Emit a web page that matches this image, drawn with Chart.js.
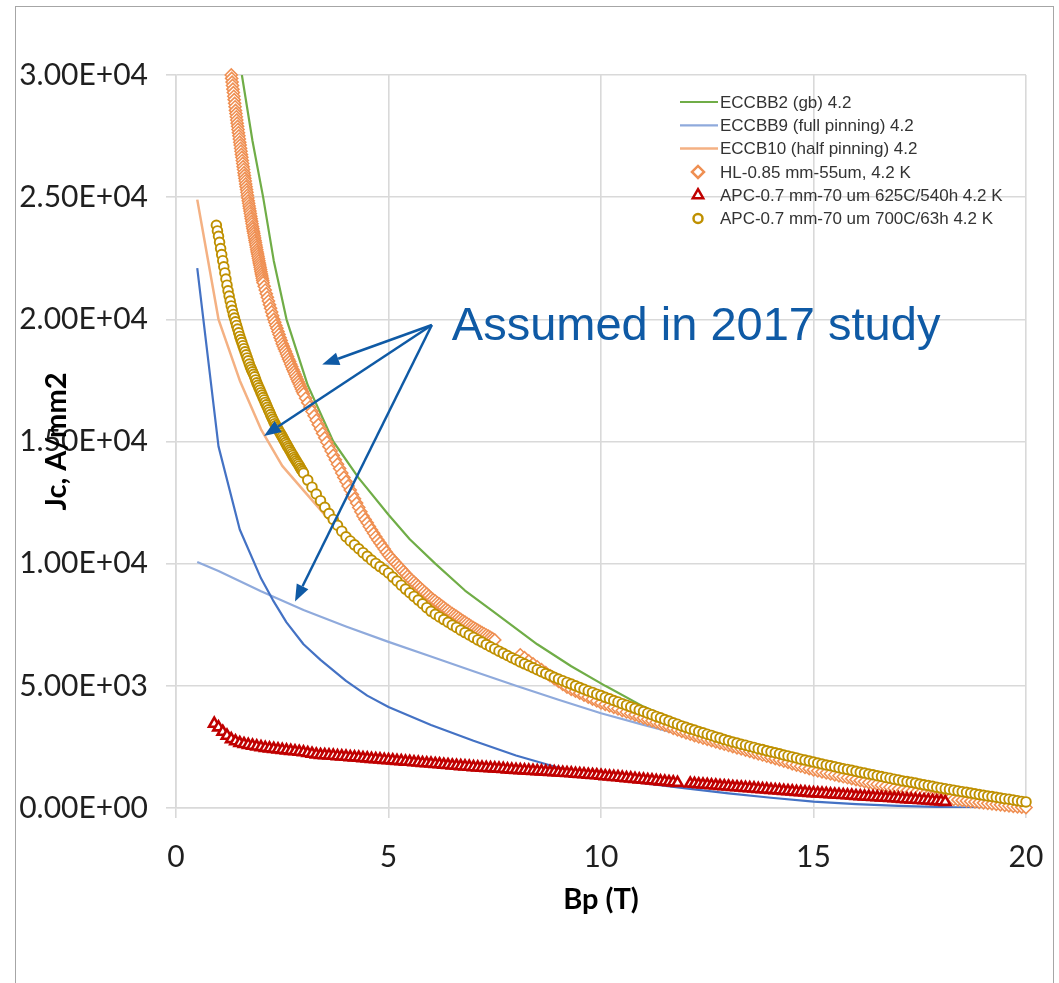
<!DOCTYPE html>
<html>
<head>
<meta charset="utf-8">
<script src="https://cdn.jsdelivr.net/npm/chart.js@4.4.1/dist/chart.umd.min.js"></script>
<style>
  html, body { margin: 0; padding: 0; background: #fff; overflow: hidden; }
  .frame { position: absolute; left: 15px; top: 6px; width: 1037px; height: 990px; border: 1px solid #a6a6a6; }
  #jcChart { position: absolute; left: 0; top: 0; }
</style>
</head>
<body>
<div class="frame"></div>
<canvas id="jcChart" width="1059" height="983"></canvas>
<script>
// Jc (A/mm2) vs. peak field Bp (T) at 4.2 K

// ECCBB2 (gb) model line
const eccbb2B  = [1.55, 1.8, 2.05, 2.3, 2.6, 3.1, 3.7, 4.3, 5.0, 5.5, 6.1, 6.8, 7.5, 8.5, 9.3, 10.1, 11, 12, 13, 14, 15, 16, 17, 18, 19, 20];
const eccbb2Jc = [30000, 27300, 25000, 22400, 20000, 17300, 15000, 13500, 12000, 11000, 10000, 8900, 8000, 6700, 5800, 5000, 4150, 3400, 2750, 2250, 1850, 1450, 1100, 750, 400, 100];

// ECCBB9 (full pinning) model line
const eccbb9B  = [0.5, 1, 2, 3, 4, 5, 6, 7, 8, 9, 10, 11, 12, 13.5, 15, 17.5, 20];
const eccbb9Jc = [10070, 9700, 8870, 8100, 7430, 6800, 6200, 5600, 5000, 4430, 3880, 3400, 2950, 2300, 1650, 750, 0];

// ECCB10 (half pinning) model line
const eccb10B  = [0.5, 1.0, 1.5, 2.0, 2.5, 3.0, 3.6, 4.0, 4.5, 5, 5.5, 6, 7, 8, 9, 10, 11, 12, 13, 14, 15, 16, 17, 18, 19, 20];
const eccb10Jc = [24900, 20000, 17500, 15500, 14000, 13000, 11800, 11050, 10350, 9500, 8750, 7950, 6850, 5950, 5150, 4450, 3800, 3150, 2550, 2050, 1600, 1200, 850, 500, 250, 50];

// second full-pinning curve (dark blue, not listed in the legend)
const fullPinB  = [0.5, 1, 1.5, 2, 2.28, 2.6, 3, 3.4, 4, 4.5, 5, 6, 7, 8, 9, 10, 11, 12, 13, 14, 15, 16, 17, 18, 19, 20];
const fullPinJc = [22100, 14800, 11400, 9400, 8510, 7600, 6700, 6060, 5200, 4600, 4130, 3400, 2750, 2150, 1650, 1250, 1020, 800, 600, 420, 260, 160, 90, 40, 10, 0];

// HL-0.85 mm-55um, 4.2 K
const hlB = [
  1.30, 1.31, 1.32, 1.33, 1.34, 1.35, 1.36, 1.37, 1.38, 1.39,
  1.40, 1.41, 1.42, 1.43, 1.44, 1.45, 1.46, 1.47, 1.48, 1.49,
  1.50, 1.51, 1.52, 1.53, 1.54, 1.55, 1.56, 1.57, 1.58, 1.59,
  1.60, 1.61, 1.62, 1.63, 1.64, 1.65, 1.66, 1.67, 1.68, 1.69,
  1.70, 1.71, 1.72, 1.73, 1.74, 1.75, 1.76, 1.77, 1.78, 1.79,
  1.80, 1.81, 1.82, 1.83, 1.84, 1.85, 1.86, 1.87, 1.88, 1.89,
  1.90, 1.91, 1.92, 1.93, 1.94, 1.95, 1.96, 1.97, 1.98, 1.99,
  2.00, 2.01, 2.02, 2.03, 2.04,
  2.05, 2.075, 2.10, 2.125, 2.15, 2.175, 2.20, 2.225, 2.25, 2.275,
  2.30, 2.325, 2.35, 2.375, 2.40, 2.425, 2.45, 2.475, 2.50, 2.525,
  2.55, 2.575, 2.60, 2.625, 2.65, 2.675, 2.70, 2.725, 2.75, 2.775,
  2.80, 2.825, 2.85, 2.875, 2.90, 2.925, 2.95, 2.975, 3.00,
  3.05, 3.10, 3.15, 3.20, 3.25, 3.30, 3.35, 3.40, 3.45, 3.50,
  3.55, 3.60, 3.65, 3.70, 3.75, 3.80, 3.85, 3.90, 3.95, 4.00,
  4.05, 4.10, 4.15, 4.20, 4.25, 4.30, 4.35, 4.40, 4.45, 4.50,
  4.55, 4.60, 4.65, 4.70, 4.75, 4.80, 4.85, 4.90, 4.95, 5.00,
  5.05, 5.10, 5.15, 5.20, 5.25, 5.30, 5.35, 5.40, 5.45, 5.50,
  5.55, 5.60, 5.65, 5.70, 5.75, 5.80, 5.85, 5.90, 5.95, 6.00,
  6.05, 6.10, 6.15, 6.20, 6.25, 6.30, 6.35, 6.40, 6.45, 6.50,
  6.55, 6.60, 6.65, 6.70, 6.75, 6.80, 6.85, 6.90, 6.95, 7.00,
  7.05, 7.10, 7.15, 7.20, 7.25, 7.30, 7.35, 7.40, 7.45, 7.50,
  8.1, 8.2, 8.3, 8.4, 8.5, 8.6, 8.7, 8.8, 8.9, 9.0,
  9.1, 9.2, 9.3, 9.4, 9.5, 9.6, 9.7, 9.8, 9.9, 10.0,
  10.1, 10.2, 10.3, 10.4, 10.5, 10.6, 10.7, 10.8, 10.9, 11.0,
  11.1, 11.2, 11.3, 11.4, 11.5, 11.6, 11.7, 11.8, 11.9, 12.0,
  12.1, 12.2, 12.3, 12.4, 12.5, 12.6, 12.7, 12.8, 12.9, 13.0,
  13.1, 13.2, 13.3, 13.4, 13.5, 13.6, 13.7, 13.8, 13.9, 14.0,
  14.1, 14.2, 14.3, 14.4, 14.5, 14.6, 14.7, 14.8, 14.9, 15.0,
  15.1, 15.2, 15.3, 15.4, 15.5, 15.6, 15.7, 15.8, 15.9, 16.0,
  16.1, 16.2, 16.3, 16.4, 16.5, 16.6, 16.7, 16.8, 16.9, 17.0,
  17.1, 17.2, 17.3, 17.4, 17.5, 17.6, 17.7, 17.8, 17.9, 18.0,
  18.1, 18.2, 18.3, 18.4, 18.5, 18.6, 18.7, 18.8, 18.9, 19.0,
  19.1, 19.2, 19.3, 19.4, 19.5, 19.6, 19.7, 19.8, 19.9, 20.0
];
const hlJc = [
  30000, 29860, 29710, 29570, 29420, 29280, 29130, 28990, 28840, 28700,
  28550, 28420, 28290, 28160, 28030, 27900, 27770, 27640, 27510, 27380,
  27250, 27130, 27000, 26880, 26750, 26630, 26500, 26380, 26250, 26130,
  26000, 25890, 25770, 25660, 25540, 25430, 25310, 25200, 25080, 24970,
  24850, 24750, 24640, 24540, 24430, 24330, 24220, 24120, 24010, 23910,
  23800, 23710, 23610, 23520, 23420, 23330, 23230, 23140, 23040, 22950,
  22850, 22760, 22670, 22580, 22490, 22400, 22310, 22220, 22130, 22040,
  21950, 21860, 21770, 21680, 21590,
  21500, 21350, 21200, 21050, 20900, 20750, 20600, 20450, 20300, 20150,
  20000, 19880, 19750, 19630, 19500, 19380, 19250, 19130, 19000, 18900,
  18790, 18690, 18580, 18480, 18370, 18270, 18160, 18060, 17950, 17850,
  17750, 17650, 17550, 17450, 17350, 17250, 17150, 17050, 16950,
  16770, 16590, 16410, 16230, 16050, 15870, 15690, 15510, 15330, 15150,
  14970, 14790, 14610, 14430, 14250, 14070, 13890, 13710, 13530, 13360,
  13180, 13010, 12830, 12660, 12480, 12300, 12120, 11950, 11810, 11670,
  11520, 11380, 11240, 11100, 10970, 10850, 10720, 10600, 10470, 10350,
  10250, 10160, 10060, 9970, 9870, 9780, 9680, 9590, 9490, 9400,
  9320, 9240, 9160, 9080, 9000, 8920, 8840, 8760, 8680, 8600,
  8530, 8470, 8400, 8340, 8270, 8210, 8140, 8080, 8010, 7950,
  7890, 7840, 7780, 7720, 7660, 7610, 7550, 7490, 7430, 7380,
  7330, 7280, 7230, 7180, 7130, 7080, 7030, 6980, 6930, 6880,
  6270, 6150, 6020, 5900, 5780, 5660, 5540, 5420, 5300, 5180,
  5060, 4950, 4860, 4780, 4700, 4620, 4540, 4460, 4380, 4300,
  4240, 4180, 4120, 4060, 3990, 3930, 3870, 3810, 3750, 3690,
  3630, 3570, 3510, 3450, 3390, 3330, 3260, 3200, 3140, 3080,
  3020, 2960, 2910, 2860, 2810, 2760, 2710, 2660, 2610, 2560,
  2510, 2460, 2420, 2370, 2320, 2270, 2220, 2170, 2120, 2070,
  2020, 1970, 1920, 1870, 1810, 1760, 1710, 1660, 1610, 1560,
  1520, 1480, 1440, 1400, 1360, 1320, 1280, 1240, 1200, 1160,
  1120, 1080, 1040, 1000, 970, 930, 890, 850, 810, 770,
  730, 690, 650, 610, 570, 530, 490, 450, 430, 410,
  390, 370, 350, 330, 310, 290, 270, 250, 230, 210,
  190, 170, 150, 130, 110, 90, 70, 50, 35, 20
];

// APC-0.7 mm-70 um 625C/540h 4.2 K
const apc625B = [
  0.9, 1.0, 1.1, 1.2, 1.3, 1.4, 1.5, 1.6, 1.7, 1.8, 1.9, 2.0, 2.1, 2.2, 2.3, 2.4, 2.5, 2.6, 2.7, 2.8,
  2.9, 3.0, 3.1, 3.2, 3.3, 3.4, 3.5, 3.6, 3.7, 3.8, 3.9, 4.0, 4.1, 4.2, 4.3, 4.4, 4.5, 4.6, 4.7, 4.8,
  4.9, 5.0, 5.1, 5.2, 5.3, 5.4, 5.5, 5.6, 5.7, 5.8, 5.9, 6.0, 6.1, 6.2, 6.3, 6.4, 6.5, 6.6, 6.7, 6.8,
  6.9, 7.0, 7.1, 7.2, 7.3, 7.4, 7.5, 7.6, 7.7, 7.8, 7.9, 8.0, 8.1, 8.2, 8.3, 8.4, 8.5, 8.6, 8.7, 8.8,
  8.9, 9.0, 9.1, 9.2, 9.3, 9.4, 9.5, 9.6, 9.7, 9.8, 9.9, 10.0, 10.1, 10.2, 10.3, 10.4, 10.5, 10.6, 10.7, 10.8,
  10.9, 11.0, 11.1, 11.2, 11.3, 11.4, 11.5, 11.6, 11.7, 11.8,
  12.1, 12.2, 12.3, 12.4, 12.5, 12.6, 12.7, 12.8, 12.9, 13.0, 13.1, 13.2, 13.3, 13.4, 13.5, 13.6, 13.7, 13.8, 13.9, 14.0,
  14.1, 14.2, 14.3, 14.4, 14.5, 14.6, 14.7, 14.8, 14.9, 15.0, 15.1, 15.2, 15.3, 15.4, 15.5, 15.6, 15.7, 15.8, 15.9, 16.0,
  16.1, 16.2, 16.3, 16.4, 16.5, 16.6, 16.7, 16.8, 16.9, 17.0, 17.1, 17.2, 17.3, 17.4, 17.5, 17.6, 17.7, 17.8, 17.9, 18.0,
  18.1
];
const apc625Jc = [
  3450, 3300, 3120, 2960, 2820, 2730, 2660, 2620, 2580, 2550, 2520, 2490, 2460, 2440, 2420, 2400, 2380, 2360, 2340, 2320,
  2300, 2280, 2250, 2220, 2190, 2170, 2160, 2150, 2140, 2120, 2110, 2100, 2080, 2070, 2060, 2040, 2030, 2010, 2000, 1990,
  1970, 1960, 1950, 1930, 1920, 1900, 1890, 1870, 1860, 1840, 1830, 1820, 1800, 1790, 1770, 1760, 1740, 1730, 1710, 1700,
  1690, 1670, 1660, 1650, 1640, 1630, 1620, 1610, 1600, 1580, 1570, 1560, 1550, 1540, 1530, 1520, 1510, 1500, 1490, 1480,
  1470, 1450, 1440, 1430, 1420, 1400, 1390, 1380, 1360, 1350, 1340, 1320, 1300, 1290, 1270, 1260, 1240, 1220, 1210, 1190,
  1170, 1160, 1140, 1130, 1110, 1090, 1080, 1060, 1050, 1030,
  1000, 990, 970, 960, 950, 930, 920, 900, 890, 880, 860, 850, 840, 820, 810, 800, 780, 770, 760, 740,
  730, 720, 700, 690, 680, 660, 650, 640, 620, 610, 600, 590, 580, 560, 550, 540, 530, 520, 510, 490,
  480, 470, 460, 450, 440, 430, 420, 410, 400, 390, 370, 360, 350, 340, 330, 320, 310, 290, 280, 270,
  250
];

// APC-0.7 mm-70 um 700C/63h 4.2 K
const apc700B = [
  0.95, 0.975, 1.0, 1.025, 1.05, 1.075, 1.1, 1.125, 1.15, 1.175,
  1.2, 1.225, 1.25, 1.275, 1.3, 1.325, 1.35, 1.375, 1.4, 1.425,
  1.45, 1.475, 1.5, 1.525, 1.55, 1.575, 1.6, 1.625, 1.65, 1.675,
  1.7, 1.725, 1.75, 1.775, 1.8, 1.825, 1.85, 1.875, 1.9, 1.925,
  1.95, 1.975, 2.0, 2.025, 2.05, 2.075, 2.1, 2.125, 2.15, 2.175,
  2.2, 2.225, 2.25, 2.275, 2.3, 2.325, 2.35, 2.375, 2.4, 2.425,
  2.45, 2.475, 2.5, 2.525, 2.55, 2.575, 2.6, 2.625, 2.65, 2.675,
  2.7, 2.725, 2.75, 2.775, 2.8, 2.825, 2.85, 2.875, 2.9, 2.925,
  2.95, 2.975, 3.0,
  3.1, 3.2, 3.3, 3.4, 3.5, 3.6, 3.7, 3.8, 3.9, 4.0,
  4.1, 4.2, 4.3, 4.4, 4.5, 4.6, 4.7, 4.8, 4.9, 5.0,
  5.1, 5.2, 5.3, 5.4, 5.5, 5.6, 5.7, 5.8, 5.9, 6.0,
  6.1, 6.2, 6.3, 6.4, 6.5, 6.6, 6.7, 6.8, 6.9, 7.0,
  7.1, 7.2, 7.3, 7.4, 7.5, 7.6, 7.7, 7.8, 7.9, 8.0,
  8.1, 8.2, 8.3, 8.4, 8.5, 8.6, 8.7, 8.8, 8.9, 9.0,
  9.1, 9.2, 9.3, 9.4, 9.5, 9.6, 9.7, 9.8, 9.9, 10.0,
  10.1, 10.2, 10.3, 10.4, 10.5, 10.6, 10.7, 10.8, 10.9, 11.0,
  11.1, 11.2, 11.3, 11.4, 11.5, 11.6, 11.7, 11.8, 11.9, 12.0,
  12.1, 12.2, 12.3, 12.4, 12.5, 12.6, 12.7, 12.8, 12.9, 13.0,
  13.1, 13.2, 13.3, 13.4, 13.5, 13.6, 13.7, 13.8, 13.9, 14.0,
  14.1, 14.2, 14.3, 14.4, 14.5, 14.6, 14.7, 14.8, 14.9, 15.0,
  15.1, 15.2, 15.3, 15.4, 15.5, 15.6, 15.7, 15.8, 15.9, 16.0,
  16.1, 16.2, 16.3, 16.4, 16.5, 16.6, 16.7, 16.8, 16.9, 17.0,
  17.1, 17.2, 17.3, 17.4, 17.5, 17.6, 17.7, 17.8, 17.9, 18.0,
  18.1, 18.2, 18.3, 18.4, 18.5, 18.6, 18.7, 18.8, 18.9, 19.0,
  19.1, 19.2, 19.3, 19.4, 19.5, 19.6, 19.7, 19.8, 19.9, 20.0
];
const apc700Jc = [
  23850, 23620, 23400, 23150, 22900, 22650, 22400, 22150, 21900, 21650,
  21400, 21170, 20950, 20750, 20550, 20370, 20200, 20050, 19900, 19750,
  19600, 19450, 19300, 19170, 19050, 18920, 18800, 18670, 18550, 18420,
  18300, 18170, 18050, 17950, 17850, 17750, 17650, 17520, 17400, 17300,
  17200, 17100, 17000, 16900, 16800, 16700, 16600, 16500, 16400, 16300,
  16200, 16100, 16000, 15910, 15820, 15730, 15650, 15570, 15500, 15420,
  15350, 15270, 15200, 15120, 15040, 14960, 14880, 14800, 14730, 14650,
  14580, 14500, 14430, 14350, 14280, 14210, 14140, 14070, 14000, 13920,
  13850, 13780, 13710,
  13420, 13130, 12850, 12580, 12310, 12050, 11810, 11570, 11330, 11100,
  10930, 10770, 10610, 10450, 10300, 10150, 10010, 9880, 9750, 9620,
  9450, 9290, 9120, 8960, 8810, 8660, 8510, 8360, 8200, 8050,
  7930, 7820, 7710, 7600, 7490, 7390, 7280, 7180, 7080, 6980,
  6880, 6790, 6690, 6600, 6510, 6420, 6330, 6240, 6150, 6070,
  5980, 5900, 5820, 5740, 5660, 5580, 5500, 5430, 5350, 5280,
  5210, 5140, 5070, 5000, 4930, 4860, 4790, 4730, 4660, 4600,
  4530, 4470, 4400, 4340, 4270, 4210, 4140, 4080, 4010, 3950,
  3880, 3820, 3750, 3690, 3620, 3560, 3490, 3430, 3360, 3300,
  3240, 3190, 3130, 3080, 3020, 2970, 2910, 2860, 2800, 2750,
  2700, 2660, 2610, 2570, 2520, 2480, 2430, 2390, 2340, 2300,
  2260, 2220, 2170, 2130, 2090, 2050, 2000, 1960, 1920, 1880,
  1840, 1800, 1760, 1730, 1690, 1650, 1610, 1580, 1540, 1500,
  1460, 1430, 1390, 1360, 1320, 1290, 1250, 1220, 1180, 1150,
  1110, 1080, 1050, 1020, 980, 950, 920, 890, 850, 820,
  790, 760, 730, 700, 670, 640, 610, 580, 550, 520,
  490, 470, 440, 410, 380, 360, 330, 300, 270, 250
];

const xTicks = [0, 5, 10, 15, 20];
const yTicks = [0, 5000, 10000, 15000, 20000, 25000, 30000];

// note with arrows pointing at the three assumed curves (data coordinates)
const noteText = 'Assumed in 2017 study';
const noteAt = [6.49, 19160];
const arrowFrom = [6.02, 19770];
const arrowTips = [[3.44, 18150], [2.07, 15230], [2.8, 8450]];

const gridColor = '#d9d9d9';
const tickColor = '#1f1f1f';
const noteColor = '#0f5aa5';

function pts(xs, ys) {
  return xs.map((x, i) => ({ x: x, y: ys[i] }));
}

// 15000 -> "1.50E+04"
function sci(v) {
  if (v === 0) return '0.00E+00';
  const e = Math.floor(Math.log10(Math.abs(v)));
  const m = v / Math.pow(10, e);
  return m.toFixed(2) + 'E' + (e < 0 ? '-' : '+') + String(Math.abs(e)).padStart(2, '0');
}

function lineSet(label, xs, ys, color, width, order) {
  return {
    label: label, data: pts(xs, ys), showLine: true, tension: 0,
    borderColor: color, borderWidth: width, borderJoinStyle: 'round',
    pointRadius: 0, pointStyle: 'line', order: order
  };
}

function markerSet(label, xs, ys, color, style, radius, width, order) {
  return {
    label: label, data: pts(xs, ys), showLine: false,
    pointStyle: style, pointRadius: radius, pointBorderWidth: width,
    pointBorderColor: color, pointBackgroundColor: '#ffffff',
    borderColor: color, backgroundColor: '#ffffff', order: order, clip: 8
  };
}

const datasets = [
  lineSet('ECCBB2 (gb) 4.2', eccbb2B, eccbb2Jc, '#70ad47', 2.2, 6),
  lineSet('ECCBB9 (full pinning) 4.2', eccbb9B, eccbb9Jc, '#8faadc', 2.2, 5),
  lineSet('ECCB10 (half pinning) 4.2', eccb10B, eccb10Jc, '#f4b183', 2.5, 4),
  markerSet('HL-0.85 mm-55um, 4.2 K', hlB, hlJc, '#ef8f52', 'rectRot', 6, 1.6, 2),
  markerSet('APC-0.7 mm-70 um 625C/540h 4.2 K', apc625B, apc625Jc, '#c00000', 'triangle', 6, 2.6, 1),
  markerSet('APC-0.7 mm-70 um 700C/63h 4.2 K', apc700B, apc700Jc, '#bf9000', 'circle', 4.8, 1.9, 0),
  lineSet('ECCBB9 full pinning', fullPinB, fullPinJc, '#4472c4', 2.2, 3)
];
const legendRows = [0, 1, 2, 3, 4, 5];

// legend box in the top-right corner of the plot
const cornerLegend = {
  id: 'cornerLegend',
  afterDraw(chart) {
    const ctx = chart.ctx;
    const area = chart.chartArea;
    const x0 = area.right - 346;
    ctx.save();
    ctx.font = '17px "Liberation Sans", Arial, sans-serif';
    ctx.textBaseline = 'middle';
    legendRows.forEach((di, row) => {
      const ds = chart.data.datasets[di];
      const y = area.top + 27 + row * 23.3;
      if (ds.showLine) {
        ctx.strokeStyle = ds.borderColor;
        ctx.lineWidth = ds.borderWidth;
        ctx.beginPath();
        ctx.moveTo(x0, y);
        ctx.lineTo(x0 + 38, y);
        ctx.stroke();
      } else {
        ctx.strokeStyle = ds.pointBorderColor;
        ctx.fillStyle = '#ffffff';
        Chart.helpers.drawPoint(ctx, {
          pointStyle: ds.pointStyle, radius: ds.pointStyle === 'circle' ? 4.5 : 6,
          borderWidth: 1.6, rotation: 0
        }, x0 + 18, y);
      }
      ctx.fillStyle = '#333333';
      ctx.fillText(ds.label, x0 + 40, y + 1);
    });
    ctx.restore();
  }
};

// axis titles: the y title sits over the tick labels
const axisTitles = {
  id: 'axisTitles',
  afterDraw(chart) {
    const ctx = chart.ctx;
    const area = chart.chartArea;
    ctx.save();
    ctx.fillStyle = '#000000';
    ctx.font = 'bold 29px Lato, "Liberation Sans", sans-serif';
    ctx.textAlign = 'center';
    ctx.textBaseline = 'alphabetic';
    ctx.fillText('Bp (T)', (area.left + area.right) / 2, area.bottom + 101);
    ctx.translate(66, (area.top + area.bottom) / 2);
    ctx.rotate(-Math.PI / 2);
    ctx.fillText('Jc, A/mm2', 0, 0);
    ctx.restore();
  }
};

const studyNote = {
  id: 'studyNote',
  afterDatasetsDraw(chart) {
    const ctx = chart.ctx;
    const sx = chart.scales.x, sy = chart.scales.y;
    const ox = sx.getPixelForValue(arrowFrom[0]), oy = sy.getPixelForValue(arrowFrom[1]);
    ctx.save();
    ctx.strokeStyle = noteColor;
    ctx.fillStyle = noteColor;
    ctx.lineWidth = 2.5;
    arrowTips.forEach(t => {
      const tx = sx.getPixelForValue(t[0]), ty = sy.getPixelForValue(t[1]);
      const ang = Math.atan2(ty - oy, tx - ox);
      const head = 17, half = 6.5;
      const bx = tx - Math.cos(ang) * head, by = ty - Math.sin(ang) * head;
      ctx.beginPath();
      ctx.moveTo(ox, oy);
      ctx.lineTo(bx, by);
      ctx.stroke();
      ctx.beginPath();
      ctx.moveTo(tx, ty);
      ctx.lineTo(bx + Math.sin(ang) * half, by - Math.cos(ang) * half);
      ctx.lineTo(bx - Math.sin(ang) * half, by + Math.cos(ang) * half);
      ctx.closePath();
      ctx.fill();
    });
    ctx.font = '47px "Liberation Sans", Arial, sans-serif';
    ctx.textBaseline = 'alphabetic';
    ctx.fillText(noteText, sx.getPixelForValue(noteAt[0]), sy.getPixelForValue(noteAt[1]));
    ctx.restore();
  }
};

const tickFont = { family: 'Lato, "Liberation Sans", sans-serif', size: 30 };

// fixed axis sizes so the plot area spans x 176..1026, y 75..808
function fixX(s) { s.height = 175; s.paddingLeft = 0; s.paddingRight = 0; }
function fixY(s) { s.width = 176; s.paddingTop = 0; s.paddingBottom = 0; }

new Chart(document.getElementById('jcChart'), {
  type: 'scatter',
  data: { datasets: datasets },
  options: {
    responsive: false,
    animation: false,
    layout: { padding: { left: 0, top: 75, right: 33, bottom: 0 } },
    plugins: { legend: { display: false }, tooltip: { enabled: false } },
    scales: {
      x: {
        type: 'linear', min: xTicks[0], max: xTicks[xTicks.length - 1],
        afterBuildTicks: s => { s.ticks = xTicks.map(v => ({ value: v })); },
        ticks: { color: tickColor, font: tickFont, padding: 21 },
        grid: { color: gridColor, lineWidth: 1.6, tickLength: 10 },
        border: { color: gridColor, width: 1.6 },
        afterFit: fixX
      },
      y: {
        type: 'linear', min: yTicks[0], max: yTicks[yTicks.length - 1],
        afterBuildTicks: s => { s.ticks = yTicks.map(v => ({ value: v })); },
        ticks: { color: tickColor, font: tickFont, padding: 18, callback: v => sci(v) },
        grid: { color: gridColor, lineWidth: 1.6, tickLength: 10 },
        border: { color: gridColor, width: 1.6 },
        afterFit: fixY
      }
    }
  },
  plugins: [studyNote, cornerLegend, axisTitles]
});
</script>
</body>
</html>
